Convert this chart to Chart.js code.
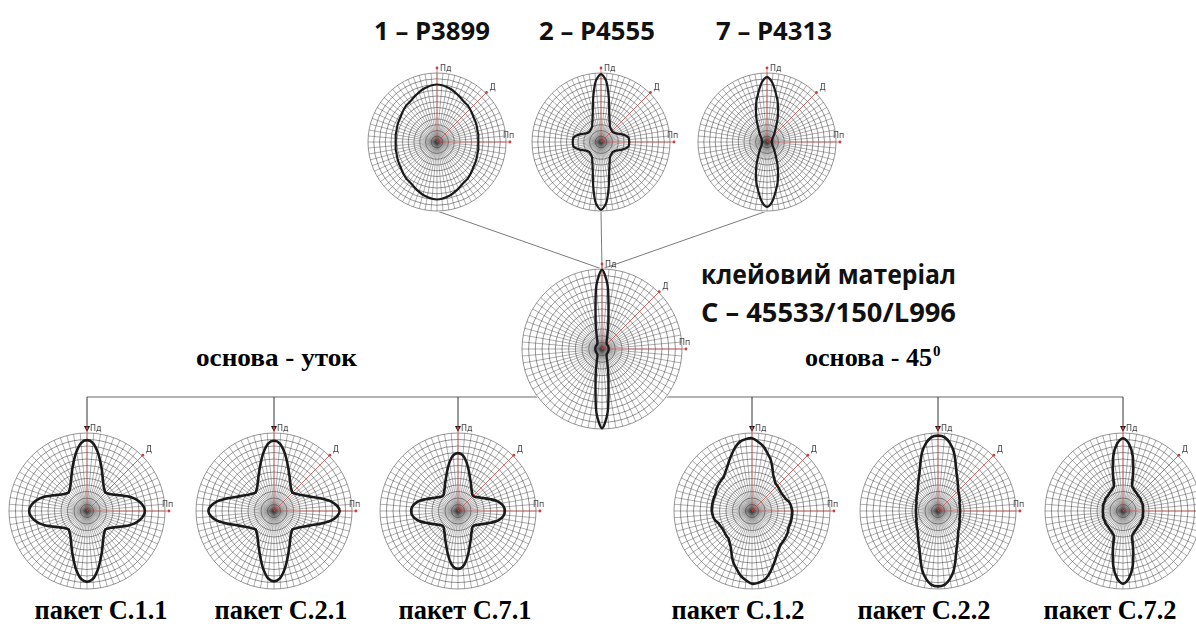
<!DOCTYPE html>
<html>
<head>
<meta charset="utf-8">
<script src="https://cdn.jsdelivr.net/npm/chart.js@4.4.1/dist/chart.umd.min.js"></script>
<style>
  body { margin:0; background:#fff; }
  #page { position:relative; width:1196px; height:628px; overflow:hidden; background:#fff; }
  #page canvas { position:absolute; }
  #links { position:absolute; left:0; top:0; }
  .hd { font-family:"Open Sans", "DejaVu Sans", sans-serif; font-weight:700; fill:#111; }
  .tm { font-family:"Liberation Serif", "DejaVu Serif", serif; font-weight:700; fill:#000; }
</style>
</head>
<body>
<div id="page">
  <svg id="links" width="1196" height="628">
    <text class="hd" x="432" y="40" font-size="25" text-anchor="middle" textLength="116" lengthAdjust="spacingAndGlyphs">1 – P3899</text>
    <text class="hd" x="597" y="40" font-size="25" text-anchor="middle" textLength="116" lengthAdjust="spacingAndGlyphs">2 – P4555</text>
    <text class="hd" x="774" y="40" font-size="25" text-anchor="middle" textLength="116" lengthAdjust="spacingAndGlyphs">7 – P4313</text>
    <text class="hd" x="701" y="284" font-size="27" textLength="255" lengthAdjust="spacingAndGlyphs">клейовий матеріал</text>
    <text class="hd" x="701" y="322" font-size="27" textLength="255" lengthAdjust="spacingAndGlyphs">С – 45533/150/L996</text>
    <text class="tm" x="196" y="366" font-size="26" textLength="161" lengthAdjust="spacingAndGlyphs">основа - уток</text>
    <text class="tm" x="805" y="366" font-size="26" textLength="127" lengthAdjust="spacingAndGlyphs">основа - 45</text>
    <text class="tm" x="933" y="356" font-size="15">0</text>
  </svg>
</div>
<script>
// кути, градуси за годинниковою стрілкою від напрямку Пд
const angleLabels = Array.from({length: 72}, (_, i) => i * 5);

// радіуси кривих (0..120 = від центру до зовнішнього кола)
const p3899  = [100,99,97,95,92,89,86,84,83,81,79,77,76,75,74,73,73,72,72,72,73,73,74,75,76,77,79,81,83,84,86,89,92,95,97,99, 100,99,97,95,92,89,86,84,83,81,79,77,76,75,74,73,73,72,72,72,73,73,74,75,76,77,79,81,83,84,86,89,92,95,97,99];
const p4555  = [118,106,78,55,43,36,31,29,28,27,27,28,30,34,39,44,48,49,49,49,48,44,39,34,30,28,27,27,28,29,31,36,43,55,78,106, 118,106,78,55,43,36,31,29,28,27,27,28,30,34,39,44,48,49,49,49,48,44,39,34,30,28,27,27,28,29,31,36,43,55,78,106];
const p4313  = [113,104,87,72,56,43,32,25,20,17,14,12,11,10,10,9,9,8,8,8,9,9,10,10,11,12,14,17,20,25,32,43,56,72,87,104, 113,104,87,72,56,43,32,25,20,17,14,12,11,10,10,9,9,8,8,8,9,9,10,10,11,12,14,17,20,25,32,43,56,72,87,104];
const c45533 = [119,96,56,36,24,18,14,12,11,10,10,10,10,10,10,10,10,10,10,10,10,10,10,10,10,10,10,10,11,12,14,18,24,36,56,96, 119,96,56,36,24,18,14,12,11,10,10,10,10,10,10,10,10,10,10,10,10,10,10,10,10,10,10,10,11,12,14,18,24,36,56,96];
const c11    = [109,105,93,79,67,57,50,45,42,40,42,45,50,57,66,75,82,87,89,87,82,75,66,57,50,45,42,40,42,45,50,57,67,79,93,105, 109,105,93,79,67,57,50,45,42,40,42,45,50,57,66,75,82,87,89,87,82,75,66,57,50,45,42,40,42,45,50,57,67,79,93,105];
const c21    = [108,104,92,78,66,57,50,45,42,40,42,45,49,55,63,75,88,97,101,97,88,75,63,55,49,45,42,40,42,45,50,57,66,78,92,104, 108,104,92,78,66,57,50,45,42,40,42,45,49,55,63,75,88,97,101,97,88,75,63,55,49,45,42,40,42,45,50,57,66,78,92,104];
const c71    = [89,86,76,64,54,47,41,37,34,33,34,37,41,46,53,61,67,71,72,71,67,61,53,46,41,37,34,33,34,37,41,47,54,64,76,86, 89,86,76,64,54,47,41,37,34,33,34,37,41,46,53,61,67,71,72,71,67,61,53,46,41,37,34,33,34,37,41,47,54,64,76,86];
const c12    = [112,107,101,92,84,74,65,60,56,55,54,53,53,54,55,58,60,61,62,62,62,62,62,62,64,65,66,67,68,72,77,84,92,101,108,111, 112,107,101,92,84,74,65,60,56,55,54,53,53,54,55,58,60,61,62,62,62,62,62,62,64,65,66,67,68,72,77,84,92,101,108,111];
const c22    = [116,114,106,94,79,67,59,53,48,44,42,40,38,37,35,35,34,34,34,34,34,35,35,37,38,40,42,44,48,53,59,67,79,94,106,114, 116,114,106,94,79,67,59,53,48,44,42,40,38,37,35,35,34,34,34,34,34,35,35,37,38,40,42,44,48,53,59,67,79,94,106,114];
const c72    = [112,104,86,60,41,38,36,35,34,33,33,33,32,32,32,32,31,31,31,31,31,32,32,32,32,33,33,33,34,35,36,38,41,60,86,104, 112,104,86,60,41,38,36,35,34,33,33,33,32,32,32,32,31,31,31,31,31,32,32,32,32,33,33,33,34,35,36,38,41,60,86,104];

const bottomNames = ["пакет С.1.1", "пакет С.2.1", "пакет С.7.1", "пакет С.1.2", "пакет С.2.2", "пакет С.7.2"];

// розміщення діаграм на сторінці
const PAD = 16;
const top3   = [{d:p3899, x:437, y:142}, {d:p4555, x:601, y:142}, {d:p4313, x:767, y:142}];
const middle = {d:c45533, x:602, y:349};
const bottom = [{d:c11, x:87}, {d:c21, x:274}, {d:c71, x:458}, {d:c12, x:752}, {d:c22, x:938}, {d:c72, x:1123}];
const labelX = [101, 281, 465, 738, 924, 1110];
const BY = 511, HLINE = 397;

// червоні осі Пд / Д / Пп і підписи
const axisMarks = {
  id: "axisMarks",
  beforeDraw(chart){
    const s = chart.scales.r, ctx = chart.ctx;
    ctx.save();
    ctx.fillStyle = "#fff";
    ctx.beginPath(); ctx.arc(s.xCenter, s.yCenter, s.drawingArea + 1, 0, Math.PI*2); ctx.fill();
    ctx.restore();
  },
  beforeDatasetsDraw(chart){
    const s = chart.scales.r, ctx = chart.ctx, R = s.drawingArea;
    ctx.save();
    ctx.strokeStyle = "rgba(210,70,70,0.75)";
    ctx.lineWidth = 0.9;
    [[0, R+5], [9, R+1], [18, R+4]].forEach(([i, d]) => {
      const p = s.getPointPosition(i, d);
      ctx.beginPath(); ctx.moveTo(s.xCenter, s.yCenter); ctx.lineTo(p.x, p.y); ctx.stroke();
      ctx.fillStyle = "#c84040";
      ctx.beginPath(); ctx.arc(p.x, p.y, 1.4, 0, Math.PI*2); ctx.fill();
    });
    ctx.fillStyle = "#444";
    ctx.font = "8px 'DejaVu Sans'";
    let p = s.getPointPosition(0, R+5);
    ctx.fillText("Пд", p.x + 3, p.y + 3);
    p = s.getPointPosition(9, R+1);
    ctx.fillText("Д", p.x + 3, p.y - 3);
    p = s.getPointPosition(18, R+4);
    ctx.fillText("Пп", p.x - 7, p.y - 4);
    ctx.restore();
  }
};

const page = document.getElementById("page");

function polar(data, cx, cy, r, lw){
  const cv = document.createElement("canvas");
  const size = 2*r + 2*PAD;
  cv.width = size; cv.height = size;
  cv.style.left = (cx - r - PAD) + "px";
  cv.style.top = (cy - r - PAD) + "px";
  page.appendChild(cv);
  return new Chart(cv, {
    type: "radar",
    data: {
      labels: angleLabels,
      datasets: [{ data: data, borderColor: "#1a1a1a", borderWidth: lw, pointRadius: 0, fill: false, tension: 0.3 }]
    },
    options: {
      responsive: false, animation: false, events: [],
      layout: { padding: PAD },
      plugins: { legend: { display: false }, tooltip: { enabled: false } },
      scales: {
        r: {
          min: 0, max: 120,
          ticks: { display: false, stepSize: 10 },
          pointLabels: { display: false },
          grid: { circular: true, color: "rgba(60,60,60,0.68)", lineWidth: 0.8 },
          angleLines: { color: "rgba(60,60,60,0.6)", lineWidth: 0.7 }
        }
      }
    },
    plugins: [axisMarks]
  });
}

// з'єднувальні лінії та стрілки
const svg = document.getElementById("links");
const NS = "http://www.w3.org/2000/svg";
function el(tag, attrs){
  const e = document.createElementNS(NS, tag);
  for (const k in attrs) e.setAttribute(k, attrs[k]);
  svg.appendChild(e);
  return e;
}
top3.forEach(t => el("line", {x1:t.x, y1:t.y+69, x2:middle.x, y2:middle.y-80, stroke:"#7a7a7a", "stroke-width":1}));
el("line", {x1:bottom[0].x, y1:HLINE, x2:bottom[5].x, y2:HLINE, stroke:"#9a9a9a", "stroke-width":1.4});
bottom.forEach((b, i) => {
  el("line", {x1:b.x, y1:HLINE, x2:b.x, y2:BY-82, stroke:"#333", "stroke-width":1});
  el("polygon", {points:`${b.x-3},${BY-85} ${b.x+3},${BY-85} ${b.x},${BY-79}`, fill:"#111"});
  const t = el("text", {x:labelX[i], y:619, class:"tm", "font-size":27, "text-anchor":"middle", textLength:133, lengthAdjust:"spacingAndGlyphs"});
  t.textContent = bottomNames[i];
});

top3.forEach(t => polar(t.d, t.x, t.y, 69, 2.2));
polar(middle.d, middle.x, middle.y, 80, 2.4);
bottom.forEach(b => polar(b.d, b.x, BY, 78, 2.6));
</script>
</body>
</html>
